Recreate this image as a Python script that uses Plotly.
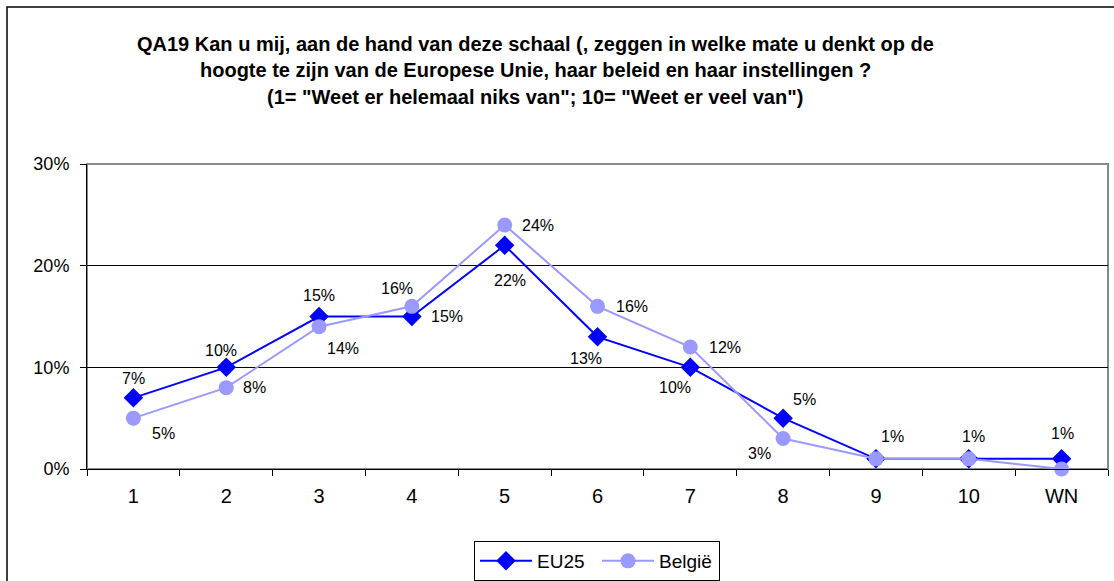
import plotly.graph_objects as go

categories = ["1", "2", "3", "4", "5", "6", "7", "8", "9", "10", "WN"]
eu25 = [0.07, 0.10, 0.15, 0.15, 0.22, 0.13, 0.10, 0.05, 0.01, 0.01, 0.01]
belgie = [0.05, 0.08, 0.14, 0.16, 0.24, 0.16, 0.12, 0.03, 0.01, 0.01, 0.00]
eu25_labels = ["7%", "10%", "15%", "15%", "22%", "13%", "10%", "5%", "1%", "1%", "1%"]
belgie_labels = ["5%", "8%", "14%", "16%", "24%", "16%", "12%", "3%", "", "", ""]
# label offsets in pixels (dx, dy downwards)
eu25_off = [(0, -19), (-5, -17), (0, -21), (35, 0), (5, 35), (-12, 22), (-15, 20),
            (21, -19), (17, -22), (5, -22), (1, -25)]
belgie_off = [(30, 15), (28, 0), (24, 22), (-15, -18), (33, 0), (34, 0), (35, 0),
              (-24, 15), (0, 0), (0, 0), (0, 0)]
title_lines = [
    "QA19 Kan u mij, aan de hand van deze schaal (, zeggen in welke mate u denkt op de",
    "hoogte te zijn van de Europese Unie, haar beleid en haar instellingen ?",
    "(1= \"Weet er helemaal niks van\"; 10= \"Weet er veel van\")",
]

FONT = "Liberation Sans, Arial, sans-serif"
L, R, T, B = 87, 6, 164, 112
W, H = 1114, 581
PW, PH = W - L - R, H - T - B

fig = go.Figure()
fig.add_trace(go.Scatter(
    x=categories, y=eu25, name="EU25", mode="lines+markers",
    line=dict(color="#0000FF", width=2),
    marker=dict(symbol="diamond", size=15, color="#0000FF"),
    cliponaxis=False,
))
fig.add_trace(go.Scatter(
    x=categories, y=belgie, name="België", mode="lines+markers",
    line=dict(color="#9999FF", width=2),
    marker=dict(symbol="circle", size=15, color="#9999FF"),
    cliponaxis=False,
))

for vals, labels, offs in [(eu25, eu25_labels, eu25_off), (belgie, belgie_labels, belgie_off)]:
    for i, (v, lab, (dx, dy)) in enumerate(zip(vals, labels, offs)):
        if not lab:
            continue
        fig.add_annotation(x=i, y=v, xref="x", yref="y", text=lab, showarrow=False,
                           xshift=dx, yshift=-dy, xanchor="center", yanchor="middle",
                           font=dict(family=FONT, size=16, color="#000000"))

for i, line in enumerate(title_lines):
    fig.add_annotation(
        text="<b>" + line + "</b>", xref="paper", yref="paper",
        x=(535 - L) / PW, y=1 + (T - [44, 70, 97][i]) / PH, yanchor="middle", xanchor="center",
        showarrow=False, font=dict(family=FONT, size=20, color="#000000"),
    )

# outer chart frame
fig.add_shape(type="rect", xref="paper", yref="paper",
              x0=(7 - L) / PW, x1=(1118 - L) / PW,
              y0=-(584 - (H - B)) / PH, y1=1 + (T - 7) / PH,
              line=dict(color="#000000", width=1.5), layer="below")
# plot area border
fig.add_shape(type="rect", xref="paper", yref="paper", x0=0, x1=1, y0=0, y1=1,
              line=dict(color="#888888", width=2), layer="below")

fig.update_layout(
    width=W, height=H,
    margin=dict(l=L, r=R, t=T, b=B, autoexpand=False),
    paper_bgcolor="white", plot_bgcolor="white",
    font=dict(family=FONT, size=17, color="#000000"),
    showlegend=True,
    legend=dict(orientation="h", x=(597 - L) / PW, xanchor="center", y=-(541 - (H - B)) / PH,
                yanchor="top", bordercolor="#000000", borderwidth=1,
                font=dict(family=FONT, size=19), itemwidth=52, entrywidth=55,
                entrywidthmode="pixels", tracegroupgap=0),
    xaxis=dict(type="category", range=[-0.5, len(categories) - 0.5],
               showgrid=False, showline=True, linecolor="#000000", linewidth=1,
               ticks="outside", tickson="boundaries", ticklen=6, tickcolor="#000000",
               tickfont=dict(size=20), ticklabelstandoff=9, zeroline=False, automargin=False),
    yaxis=dict(range=[0, 0.30], tickvals=[0, 0.1, 0.2, 0.3], tickformat=".0%",
               showgrid=True, gridcolor="#000000", gridwidth=1,
               showline=True, linecolor="#000000", linewidth=1,
               ticks="outside", ticklen=6, tickcolor="#000000", ticklabelstandoff=7,
               tickfont=dict(size=18), zeroline=False, automargin=False),
)

fig.write_html("out.html", config={"displayModeBar": False},
               post_script="document.body.style.margin='0';document.body.style.padding='0';")
